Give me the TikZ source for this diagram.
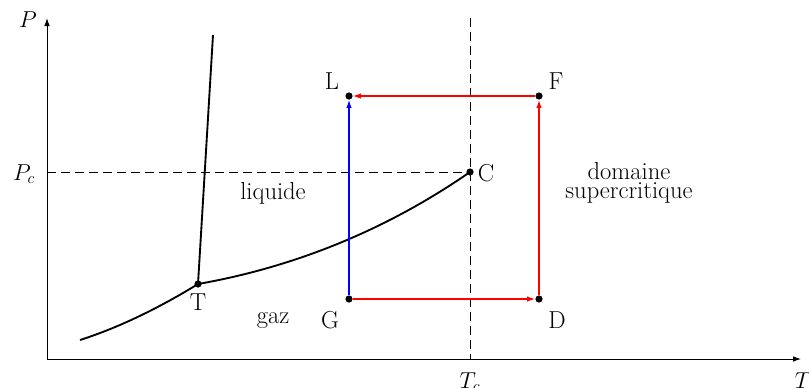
\documentclass[tikz,border=0pt]{standalone}
\usetikzlibrary{arrows.meta}
\begin{document}
\begin{tikzpicture}[x=0.75pt,y=-0.75pt,
  font=\fontsize{18.4}{13.8}\selectfont,
  pt/.style={circle,fill=black,inner sep=0pt,minimum size=5.4pt},
  lbl/.style={inner sep=1pt},
  axis/.style={line width=0.7pt,-{Latex[length=6pt,width=4.2pt]}},
  guide/.style={line width=0.7pt,dash pattern=on 6.5pt off 4pt},
  curve/.style={line width=1.4pt},
  flow/.style={line width=0.9pt,-{Latex[length=6pt,width=4pt]}}]
\useasboundingbox (0,0) rectangle (809,387);
% axes
\coordinate (O) at (47,359);
\coordinate (Ptop) at (47,18);
\coordinate (Tend) at (801,359);
\draw[axis] (O) -- (Ptop);
\draw[axis] (O) -- (Tend);
\node[lbl] (Plab) at (28,20) {$P$};
\node[lbl] (Tlab) at (803,381) {$T$};
% points
\node[pt] (C) at (470,172) {};
\node[pt] (Tp) at (198,284) {};
\node[pt] (G) at (349,299) {};
\node[pt] (D) at (539,299) {};
\node[pt] (L) at (349,96) {};
\node[pt] (F) at (539,96) {};
% guides
\coordinate (Pc0) at (47,172);
\coordinate (Tctop) at (470,18);
\coordinate (Tc0) at (470,359);
\draw[guide] (Pc0) -- (C);
\draw[guide] (Tctop) -- (Tc0);
\node[lbl] (Pclab) at (24,174) {$P_c$};
\node[lbl] (Tclab) at (470,382) {$T_c$};
% curves
\coordinate (S0) at (80,340);
\coordinate (M1) at (213,35);
\draw[curve] (S0) .. controls (119,327.5) and (159,308) .. (Tp.center);
\draw[curve] (Tp.center) .. controls (289,268) and (382,233) .. (C.center);
\draw[curve] (Tp.center) -- (M1);
% flows
\draw[flow,red] (G) -- (D);
\draw[flow,red] (D) -- (F);
\draw[flow,red] (F) -- (L);
\draw[flow,blue,line width=0.8pt] (G) -- (L);
% labels
\node[lbl] (lT) at (198,302) {T};
\node[lbl] (lC) at (486,173) {C};
\node[lbl] (lG) at (330,320) {G};
\node[lbl] (lD) at (557,320) {D};
\node[lbl] (lL) at (332,81) {L};
\node[lbl] (lF) at (556,81) {F};
\node[lbl] (gaz) at (273,321) {gaz};
\node[lbl] (liq) at (273,193) {liquide};
\node[lbl,align=center] (sc) at (629,183) {domaine\\supercritique};
\end{tikzpicture}
\end{document}
